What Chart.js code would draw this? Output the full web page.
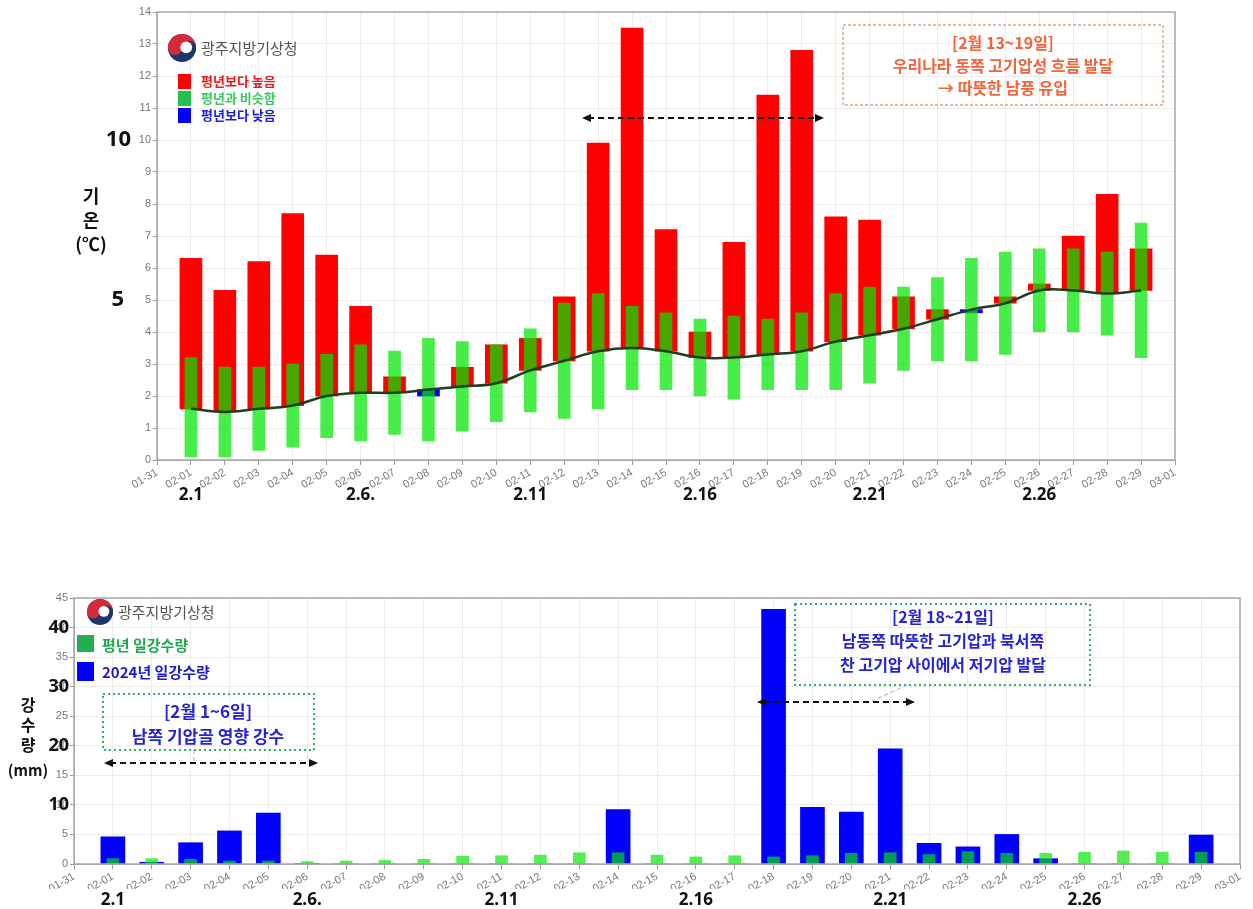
<!DOCTYPE html>
<html>
<head>
<meta charset="utf-8">
<script src="https://cdn.jsdelivr.net/npm/chart.js@4"></script>
<style>
  body { margin: 0; background: #fff; width: 1253px; height: 909px; overflow: hidden; position: relative; }
  canvas { position: absolute; left: 0; }
  #tempChart { top: 0; }
  #rainChart { top: 560px; }
</style>
</head>
<body>
<canvas id="tempChart" width="1253" height="520"></canvas>
<canvas id="rainChart" width="1253" height="349"></canvas>
<script>
// days of February 2024
const days = ['02-01','02-02','02-03','02-04','02-05','02-06','02-07','02-08','02-09','02-10',
  '02-11','02-12','02-13','02-14','02-15','02-16','02-17','02-18','02-19','02-20',
  '02-21','02-22','02-23','02-24','02-25','02-26','02-27','02-28','02-29'];
const axisLabels = ['01-31', ...days, '03-01'];

// temperature (°C)
const normalTemp = [1.6,1.5,1.6,1.7,2.0,2.1,2.1,2.2,2.3,2.4,2.8,3.1,3.4,3.5,3.4,3.2,3.2,3.3,3.4,3.7,
  3.9,4.1,4.4,4.7,4.9,5.3,5.3,5.2,5.3];
const meanTemp = [6.3,5.3,6.2,7.7,6.4,4.8,2.6,2.0,2.9,3.6,3.8,5.1,9.9,13.5,7.2,4.0,6.8,11.4,12.8,7.6,
  7.5,5.1,4.7,4.6,5.1,5.5,7.0,8.3,6.6];
const similarLow = [0.1,0.1,0.3,0.4,0.7,0.6,0.8,0.6,0.9,1.2,1.5,1.3,1.6,2.2,2.2,2.0,1.9,2.2,2.2,2.2,
  2.4,2.8,3.1,3.1,3.3,4.0,4.0,3.9,3.2];
const similarHigh = [3.2,2.9,2.9,3.0,3.3,3.6,3.4,3.8,3.7,3.6,4.1,4.9,5.2,4.8,4.6,4.4,4.5,4.4,4.6,5.2,
  5.4,5.4,5.7,6.3,6.5,6.6,6.6,6.5,7.4];

// precipitation (mm)
const rain2024 = [4.6,0.3,3.6,5.6,8.6,0.1,0,0,0,0,0,0,0,9.2,0,0,0,43.1,9.6,8.8,
  19.5,3.5,2.9,5.0,0.9,0,0,0,4.9];
const rainNormal = [0.9,0.9,0.8,0.5,0.5,0.4,0.5,0.6,0.8,1.3,1.4,1.5,1.9,1.9,1.5,1.2,1.4,1.2,1.4,1.8,
  1.9,1.6,2.1,1.8,1.8,2.0,2.2,2.0,2.0];

const dayMarks = ['2.1', '2.6.', '2.11', '2.16', '2.21', '2.26'];
const dayMarkIdx = [1, 6, 11, 16, 21, 26];

const pad = arr => [null, ...arr, null];
const KR = "'Noto Sans CJK KR', 'Liberation Sans', sans-serif";
Chart.defaults.font.family = "'Liberation Sans', 'Noto Sans CJK KR', sans-serif";
Chart.defaults.animation = false;

function drawLogo(ctx, cx, cy, r, textX) {
  ctx.save();
  ctx.beginPath(); ctx.arc(cx, cy, r, 0, Math.PI * 2); ctx.fillStyle = '#1d3769'; ctx.fill();
  ctx.beginPath(); ctx.arc(cx, cy, r, Math.PI, Math.PI * 2); ctx.fillStyle = '#d42a3a'; ctx.fill();
  ctx.beginPath(); ctx.arc(cx - r / 2, cy, r / 2, 0, Math.PI * 2); ctx.fillStyle = '#d42a3a'; ctx.fill();
  ctx.beginPath(); ctx.arc(cx + r / 2, cy, r / 2, 0, Math.PI * 2); ctx.fillStyle = '#1d3769'; ctx.fill();
  ctx.beginPath(); ctx.arc(cx + r * 0.3, cy - r * 0.05, r * 0.42, 0, Math.PI * 2); ctx.fillStyle = '#fff'; ctx.fill();
  ctx.fillStyle = '#555';
  ctx.font = "15px " + KR;
  ctx.textAlign = 'left'; ctx.textBaseline = 'middle';
  ctx.fillText('광주지방기상청', textX, cy);
  ctx.restore();
}

function dashedArrow(ctx, x1, x2, y) {
  ctx.save();
  ctx.strokeStyle = '#111'; ctx.fillStyle = '#111'; ctx.lineWidth = 2;
  ctx.setLineDash([6, 4]);
  ctx.beginPath(); ctx.moveTo(x1 + 6, y); ctx.lineTo(x2 - 6, y); ctx.stroke();
  ctx.setLineDash([]);
  ctx.beginPath(); ctx.moveTo(x1, y); ctx.lineTo(x1 + 9, y - 4); ctx.lineTo(x1 + 9, y + 4); ctx.fill();
  ctx.beginPath(); ctx.moveTo(x2, y); ctx.lineTo(x2 - 9, y - 4); ctx.lineTo(x2 - 9, y + 4); ctx.fill();
  ctx.restore();
}

function textLines(ctx, lines, cx, y0, step, color, size) {
  ctx.save();
  ctx.fillStyle = color;
  ctx.font = 'bold ' + size + 'px ' + KR;
  ctx.textAlign = 'center'; ctx.textBaseline = 'middle';
  lines.forEach((t, i) => ctx.fillText(t, cx, y0 + i * step));
  ctx.restore();
}

function boldDayMarks(chart, y) {
  const ctx = chart.ctx, xs = chart.scales.x;
  ctx.save();
  ctx.fillStyle = '#111';
  ctx.font = "bold 17px 'Open Sans', 'Liberation Sans', sans-serif";
  ctx.textAlign = 'center'; ctx.textBaseline = 'middle';
  dayMarks.forEach((t, i) => ctx.fillText(t, xs.getPixelForValue(dayMarkIdx[i]), y));
  ctx.restore();
}

function frame(chart) {
  const ctx = chart.ctx, a = chart.chartArea;
  ctx.save();
  ctx.strokeStyle = '#a8a8a8'; ctx.lineWidth = 1.5;
  ctx.strokeRect(a.left, a.top, a.right - a.left, a.bottom - a.top);
  ctx.restore();
}

const tempOverlay = {
  id: 'tempOverlay',
  afterDraw(chart) {
    const ctx = chart.ctx, ys = chart.scales.y;
    frame(chart);
    drawLogo(ctx, 182, 48, 14, 201);
    // legend
    const items = [['평년보다 높음', '#ff0000', '#f01818'], ['평년과 비슷함', '#22c24a', '#3cc860'], ['평년보다 낮음', '#0000ff', '#1a1ae0']];
    items.forEach((it, i) => {
      const y = 74 + i * 17;
      ctx.fillStyle = it[1]; ctx.fillRect(178, y, 13, 15);
      ctx.fillStyle = it[2];
      ctx.font = 'bold 13px ' + KR;
      ctx.textAlign = 'left'; ctx.textBaseline = 'middle';
      ctx.fillText(it[0], 201, y + 7.5);
    });
    // annotation box
    ctx.save();
    ctx.strokeStyle = '#c87a46'; ctx.lineWidth = 1; ctx.setLineDash([3, 2]);
    ctx.strokeRect(843, 25, 320, 80);
    ctx.restore();
    textLines(ctx, ['[2월 13~19일]', '우리나라 동쪽 고기압성 흐름 발달', '→ 따뜻한 남풍 유입'], 1003, 43, 22.5, '#f2643a', 16);
    dashedArrow(ctx, 582, 824, 118);
    // bold axis marks
    ctx.save();
    ctx.fillStyle = '#111';
    ctx.font = "bold 22px 'Open Sans', 'Liberation Sans', sans-serif";
    ctx.textAlign = 'right'; ctx.textBaseline = 'middle';
    ctx.fillText('10', 131, ys.getPixelForValue(10));
    ctx.fillText('5', 124, ys.getPixelForValue(5));
    ctx.restore();
    textLines(ctx, ['기', '온', '(℃)'], 91, 196, 24, '#111', 18);
    boldDayMarks(chart, 495);
  }
};

const rainOverlay = {
  id: 'rainOverlay',
  afterDraw(chart) {
    const ctx = chart.ctx, ys = chart.scales.y;
    frame(chart);
    drawLogo(ctx, 100, 52, 13, 118);
    ctx.fillStyle = '#22b04e'; ctx.fillRect(77, 75, 17, 17);
    ctx.fillStyle = '#0000ff'; ctx.fillRect(77, 102, 17, 19);
    ctx.font = 'bold 15px ' + KR;
    ctx.textAlign = 'left'; ctx.textBaseline = 'middle';
    ctx.fillStyle = '#22a84c'; ctx.fillText('평년 일강수량', 102, 85);
    ctx.fillStyle = '#1c1ccc'; ctx.fillText('2024년 일강수량', 102, 112);
    // boxes
    ctx.save();
    ctx.strokeStyle = '#2fae62'; ctx.lineWidth = 2; ctx.setLineDash([2, 3]);
    ctx.strokeRect(103, 134, 211, 56);
    ctx.strokeRect(795, 44, 295, 81);
    ctx.strokeStyle = '#9ab'; ctx.lineWidth = 1; ctx.setLineDash([4, 3]);
    ctx.beginPath(); ctx.moveTo(194, 190); ctx.lineTo(194, 202); ctx.stroke();
    ctx.beginPath(); ctx.moveTo(907, 125); ctx.lineTo(872, 141); ctx.stroke();
    ctx.restore();
    textLines(ctx, ['[2월 1~6일]', '남쪽 기압골 영향 강수'], 208, 152, 25, '#2424d0', 17);
    textLines(ctx, ['[2월 18~21일]', '남동쪽 따뜻한 고기압과 북서쪽', '찬 고기압 사이에서 저기압 발달'], 943, 57, 24, '#2424d0', 16);
    dashedArrow(ctx, 104, 318, 203);
    dashedArrow(ctx, 757, 915, 142);
    // bold axis marks
    ctx.save();
    ctx.fillStyle = '#111';
    ctx.font = "bold 18px 'Open Sans', 'Liberation Sans', sans-serif";
    ctx.textAlign = 'right'; ctx.textBaseline = 'middle';
    [10, 20, 30, 40].forEach(v => ctx.fillText(String(v), 69, ys.getPixelForValue(v)));
    ctx.restore();
    textLines(ctx, ['강', '수', '량'], 28, 145, 20, '#111', 16);
    textLines(ctx, ['(mm)'], 28, 210, 0, '#111', 15);
    boldDayMarks(chart, 340);
  }
};

function xScale(h) {
  return {
    type: 'category', offset: false,
    grid: { color: '#ececec', offset: false, tickLength: 5, tickColor: '#999' },
    border: { color: '#a8a8a8' },
    ticks: { color: '#777', font: { size: 11 }, minRotation: 30, maxRotation: 30, autoSkip: false, padding: 1 },
    afterFit: s => { s.height = h; }
  };
}
function yScale(max, step, w) {
  return {
    min: 0, max: max,
    grid: { color: '#ececec', tickLength: 4, tickColor: '#999' },
    border: { color: '#a8a8a8' },
    ticks: { stepSize: step, color: '#777', font: { size: 11 }, padding: 2 },
    afterFit: s => { s.width = w; }
  };
}

new Chart(document.getElementById('tempChart'), {
  type: 'bar',
  data: {
    labels: axisLabels,
    datasets: [
      {
        type: 'line', label: '평년 평균기온', data: pad(normalTemp),
        borderColor: '#1e3e1e', borderWidth: 2.5, tension: 0.4, pointRadius: 0, order: 1
      },
      {
        label: '평년 비슷범위', data: pad(days.map((d, i) => [similarLow[i], similarHigh[i]])),
        backgroundColor: 'rgba(0,232,0,0.72)', barThickness: 12, grouped: false, order: 2
      },
      {
        label: '평년 대비', data: pad(days.map((d, i) => [normalTemp[i], meanTemp[i]])),
        backgroundColor: pad(days.map((d, i) => meanTemp[i] >= normalTemp[i] ? '#ff0000' : '#0000ee')),
        barThickness: 22, grouped: false, order: 3
      }
    ]
  },
  options: {
    responsive: false,
    layout: { padding: { top: 12, left: 117, right: 78, bottom: 30 } },
    plugins: { legend: { display: false }, tooltip: { enabled: false } },
    scales: { x: xScale(30), y: yScale(14, 1, 40) }
  },
  plugins: [tempOverlay]
});

new Chart(document.getElementById('rainChart'), {
  type: 'bar',
  data: {
    labels: axisLabels,
    datasets: [
      {
        label: '평년 일강수량', data: pad(rainNormal),
        backgroundColor: 'rgba(0,232,0,0.68)', barThickness: 12, grouped: false, order: 1
      },
      {
        label: '2024년 일강수량', data: pad(rain2024),
        backgroundColor: '#0000ff', barThickness: 24, grouped: false, order: 2
      }
    ]
  },
  options: {
    responsive: false,
    layout: { padding: { top: 38, left: 44, right: 13, bottom: 20 } },
    plugins: { legend: { display: false }, tooltip: { enabled: false } },
    scales: { x: xScale(25), y: yScale(45, 5, 30) }
  },
  plugins: [rainOverlay]
});
</script>
</body>
</html>
